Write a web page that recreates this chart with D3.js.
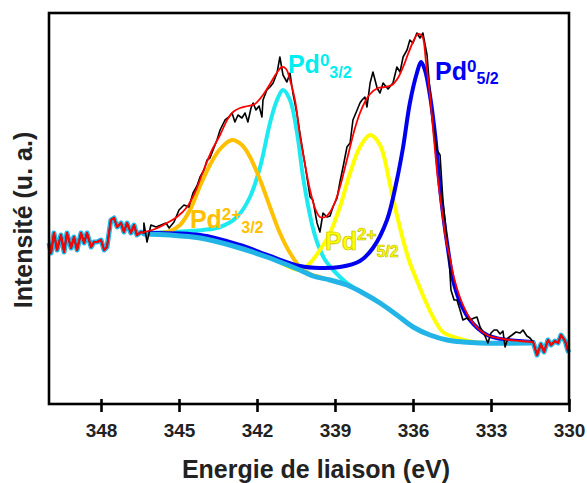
<!DOCTYPE html>
<html>
<head>
<meta charset="utf-8">
<script src="https://cdn.jsdelivr.net/npm/d3@7"></script>
<style>
  html, body { margin: 0; padding: 0; background: #fff; }
  svg { display: block; }
  text { font-family: Arial, "Liberation Sans", sans-serif; font-weight: bold; }
</style>
</head>
<body>
<svg id="chart" width="587" height="483"></svg>
<script>
// ---- Data (binding energy in eV, intensity in arbitrary units) ----
const xTicks = [348, 345, 342, 339, 336, 333, 330];

// Raw spectrum outside the fitted window (left, high BE side)
const leftNoise = [[350.00,161],[349.92,151],[349.81,171],[349.69,154],[349.54,169],[349.42,152],[349.31,171],[349.15,156],[349.04,167],[348.92,154],[348.77,171],[348.65,161],[348.54,171],[348.38,157],[348.27,162],[348.15,162],[348.00,164],[347.88,154],[347.77,157],[347.62,184],[347.50,186],[347.38,177],[347.23,181],[347.12,172],[347.00,181],[346.85,171],[346.73,179],[346.62,169],[346.46,172],[346.35,171]];
// Raw spectrum outside the fitted window (right, low BE side)
const rightNoise = [[331.38,62],[331.23,49],[331.08,60],[330.96,52],[330.81,64],[330.69,59],[330.54,63],[330.42,61],[330.31,69],[330.15,63],[330.04,53],[330.00,55]];
// Raw spectrum inside the fitted window
const rawData = [[346.35,181],[346.23,162],[346.08,179],[345.88,177],[345.69,179],[345.50,181],[345.38,176],[345.19,182],[345.00,194],[344.81,199],[344.62,197],[344.46,211],[344.31,218],[344.19,227],[344.04,234],[343.92,244],[343.81,246],[343.69,254],[343.54,264],[343.42,274],[343.23,284],[343.08,287],[342.96,291],[342.85,282],[342.73,289],[342.58,286],[342.46,291],[342.35,282],[342.23,296],[342.15,301],[342.04,294],[341.92,298],[341.81,287],[341.77,304],[341.62,314],[341.50,317],[341.38,321],[341.23,331],[341.12,347],[341.00,329],[340.85,322],[340.73,331],[340.62,311],[340.46,290],[340.35,271],[340.15,239],[339.96,207],[339.85,204],[339.69,181],[339.58,172],[339.46,191],[339.31,187],[339.19,188],[339.08,197],[338.92,206],[338.81,222],[338.69,237],[338.54,257],[338.42,261],[338.31,284],[338.15,294],[338.04,301],[337.96,304],[337.85,307],[337.77,297],[337.65,321],[337.54,332],[337.38,316],[337.27,311],[337.15,321],[336.96,315],[336.77,321],[336.62,337],[336.50,332],[336.38,347],[336.23,354],[336.12,364],[336.00,361],[335.85,371],[335.73,366],[335.62,371],[335.46,349],[335.27,287],[335.08,254],[334.96,249],[334.85,204],[334.69,164],[334.62,149],[334.54,114],[334.42,104],[334.31,104],[334.19,94],[334.08,84],[333.92,86],[333.81,84],[333.65,86],[333.54,87],[333.42,77],[333.23,68],[333.12,61],[333.00,71],[332.88,74],[332.77,74],[332.65,70],[332.54,73],[332.46,57],[332.35,66],[332.19,69],[332.04,72],[331.88,71],[331.77,74],[331.62,68],[331.50,66],[331.38,62]];
// Fitted envelope
const envelope = [[346.35,172],[345.92,175],[345.46,181],[345.08,187],[344.69,197],[344.38,212],[344.08,232],[343.73,254],[343.42,269],[343.15,284],[342.92,292],[342.65,296],[342.35,298],[342.08,300],[341.77,309],[341.50,320],[341.27,330],[341.04,337],[340.88,335],[340.73,324],[340.54,304],[340.35,269],[340.15,239],[339.96,214],[339.77,196],[339.58,187],[339.38,187],[339.19,192],[339.00,202],[338.81,217],[338.62,236],[338.42,257],[338.23,276],[338.04,291],[337.85,302],[337.65,310],[337.35,316],[337.08,317],[336.81,319],[336.58,326],[336.38,337],[336.19,350],[336.00,362],[335.81,370],[335.65,368],[335.50,342],[335.35,309],[335.19,264],[335.04,224],[334.88,192],[334.73,164],[334.58,146],[334.38,122],[334.08,99],[333.69,81],[333.15,69],[332.54,65],[331.88,63],[331.38,62]];
// Shirley background
const background = [[346.35,170],[345.35,169],[344.19,166],[342.92,158],[341.62,147],[340.73,138],[340.35,134],[339.85,128],[339.19,124],[338.54,119],[337.92,111],[337.27,101],[336.62,89],[336.00,77],[335.35,69],[334.69,64],[334.08,62],[333.42,61],[331.38,61]];
// Components (peak + background)
const pd2_32 = [[346.31,170],[345.73,171],[345.35,173],[344.96,179],[344.58,194],[344.19,218],[343.81,239],[343.42,255],[342.96,264],[342.58,259],[342.27,247],[341.88,224],[341.50,197],[341.12,171],[340.73,151],[340.35,137],[339.96,130],[339.58,127]];
const pd0_32 = [[346.31,171],[345.35,172],[344.08,174],[343.42,177],[342.77,187],[342.27,207],[341.88,237],[341.50,281],[341.23,304],[341.00,314],[340.73,304],[340.46,271],[340.23,227],[340.04,199],[339.85,176],[339.65,159],[339.38,144],[339.00,132],[338.54,121],[338.04,113]];
const pd2_52 = [[341.12,142],[340.35,134],[339.96,141],[339.58,154],[339.19,171],[338.81,197],[338.42,231],[338.04,257],[337.65,269],[337.27,259],[336.88,219],[336.62,189],[336.38,164],[336.12,141],[335.81,121],[335.54,104],[335.23,87],[334.85,72],[334.31,66],[333.69,62],[333.04,61]];
const pd0_52 = [[346.31,171],[344.19,169],[342.65,159],[341.50,148],[340.35,138],[339.58,136],[338.81,137],[338.04,143],[337.54,156],[337.00,184],[336.62,224],[336.38,257],[336.12,301],[335.85,331],[335.69,342],[335.54,334],[335.35,309],[335.15,269],[334.96,216],[334.85,191],[334.65,154],[334.46,124],[334.19,102],[333.81,84],[333.15,69],[332.38,64],[331.38,62]];

// Peak labels: anchor in data coordinates
const peakLabels = [
  {main: "Pd", sup: "0",  sub: "3/2", E: 340.81, I: 331, color: "#00EEF0", supDy: -7, subDy: 5},
  {main: "Pd", sup: "0",  sub: "5/2", E: 335.15, I: 324, color: "#0000F5", supDy: -8, subDy: 4},
  {main: "Pd", sup: "2+", sub: "3/2", E: 344.58, I: 176, color: "#FFC000", supDy: -8, subDy: 5},
  {main: "Pd", sup: "2+", sub: "5/2", E: 339.38, I: 154, color: "#FFFF00", supDy: -10, subDy: 7}
];

// ---- Layout ----
const svg = d3.select("#chart");
const mLeft = 49, mRight = 569, mTop = 13, mBottom = 404;
const x = d3.scaleLinear().domain([350, 330]).range([mLeft, mRight]);
const y = d3.scaleLinear().domain([0, 391]).range([mBottom, mTop]);

const smooth = d3.line().x(d => x(d[0])).y(d => y(d[1])).curve(d3.curveCatmullRom.alpha(0.5));
const jagged = d3.line().x(d => x(d[0])).y(d => y(d[1])).curve(d3.curveLinear);

const plot = svg.append("g");

// Components (drawn first)
const comps = [
  {d: pd0_32, c: "#1CEAF0"},
  {d: pd2_32, c: "#FFC000"},
  {d: pd2_52, c: "#FFFF00"},
  {d: pd0_52, c: "#0000F0"}
];
comps.forEach(s => {
  plot.append("path").attr("d", smooth(s.d)).attr("fill", "none")
    .attr("stroke", s.c).attr("stroke-width", 4).attr("stroke-linejoin", "round").attr("stroke-linecap", "round");
});

// Background, including the unfitted ends (which follow the raw data)
plot.append("path").attr("d", jagged(leftNoise)).attr("fill", "none")
  .attr("stroke", "#22B4E6").attr("stroke-width", 5).attr("stroke-linejoin", "round");
plot.append("path").attr("d", jagged(rightNoise)).attr("fill", "none")
  .attr("stroke", "#22B4E6").attr("stroke-width", 5).attr("stroke-linejoin", "round");
plot.append("path").attr("d", smooth(background)).attr("fill", "none")
  .attr("stroke", "#22B4E6").attr("stroke-width", 5).attr("stroke-linecap", "round");

// Raw data
plot.append("path").attr("d", jagged(leftNoise.concat(rawData, rightNoise))).attr("fill", "none")
  .attr("stroke", "#000").attr("stroke-width", 1.6).attr("stroke-linejoin", "round");

// Envelope (red)
plot.append("path").attr("d", jagged(leftNoise)).attr("fill", "none")
  .attr("stroke", "#FF0000").attr("stroke-width", 2).attr("stroke-linejoin", "round");
plot.append("path").attr("d", jagged(rightNoise)).attr("fill", "none")
  .attr("stroke", "#FF0000").attr("stroke-width", 2).attr("stroke-linejoin", "round");
plot.append("path").attr("d", smooth(envelope)).attr("fill", "none")
  .attr("stroke", "#FF0000").attr("stroke-width", 1.8);

// Peak labels
peakLabels.forEach(l => {
  const t = svg.append("text").attr("x", x(l.E)).attr("y", y(l.I)).attr("fill", l.color);
  if (l.color === "#FFFF00") t.attr("stroke", "#B8B800").attr("stroke-width", 0.6);
  t.append("tspan").attr("font-size", 25).text(l.main);
  t.append("tspan").attr("font-size", 17).attr("dy", l.supDy).text(l.sup);
  t.append("tspan").attr("font-size", 16).attr("dy", l.subDy - l.supDy).text(l.sub);
});

// Frame
svg.append("rect").attr("x", mLeft).attr("y", mTop).attr("width", mRight - mLeft).attr("height", mBottom - mTop)
  .attr("fill", "none").attr("stroke", "#000").attr("stroke-width", 2.6);

// X axis
const xAxis = d3.axisBottom(x).tickValues(xTicks).tickSize(8).tickFormat(d3.format("d"));
const gx = svg.append("g").attr("transform", `translate(0,${mBottom})`).call(xAxis);
gx.select(".domain").remove();
gx.selectAll(".tick line").attr("y1", -5).attr("y2", 8).attr("stroke", "#000").attr("stroke-width", 2.6);
gx.selectAll(".tick text").attr("y", 33).attr("dy", 0).attr("font-size", 19)
  .attr("font-family", "Arial, 'Liberation Sans', sans-serif").attr("font-weight", "bold").attr("fill", "#222");

// Axis titles
svg.append("text").attr("x", 316).attr("y", 478).attr("text-anchor", "middle")
  .attr("font-size", 25).attr("fill", "#222").text("Energie de liaison (eV)");
svg.append("text").attr("transform", "translate(32,220) rotate(-90)").attr("text-anchor", "middle")
  .attr("font-size", 25).attr("fill", "#222").text("Intensité (u. a.)");
</script>
</body>
</html>
